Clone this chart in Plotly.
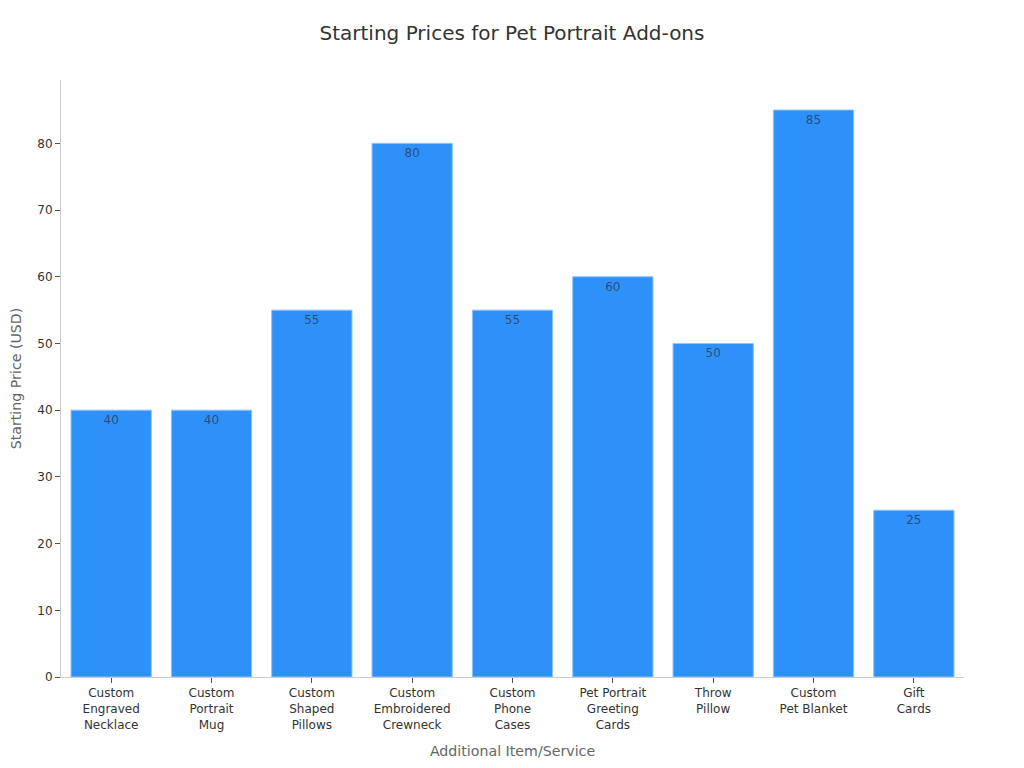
import plotly.graph_objects as go

categories = ["Custom<br>Engraved<br>Necklace", "Custom<br>Portrait<br>Mug", "Custom<br>Shaped<br>Pillows",
              "Custom<br>Embroidered<br>Crewneck", "Custom<br>Phone<br>Cases", "Pet Portrait<br>Greeting<br>Cards",
              "Throw<br>Pillow", "Custom<br>Pet Blanket", "Gift<br>Cards"]
values = [40, 40, 55, 80, 55, 60, 50, 85, 25]
y_ticks = [0, 10, 20, 30, 40, 50, 60, 70, 80]

FONT = "DejaVu Sans"
fig = go.Figure(go.Bar(
    x=categories, y=values, text=values, textposition="inside", insidetextanchor="end",
    textangle=0, constraintext="none",
    textfont=dict(family=FONT, size=12, color="rgba(40,50,70,0.72)"),
    marker=dict(color="#2E91FA", line=dict(color="#8CC4FC", width=1)),
    hoverinfo="x+y",
))
fig.update_layout(
    width=1008, height=752, autosize=False,
    margin=dict(l=52.6, r=52, t=72, b=83),
    paper_bgcolor="white", plot_bgcolor="white",
    font=dict(family=FONT, size=12, color="#333333"),
    title=dict(text="Starting Prices for Pet Portrait Add-ons", x=0.5, xanchor="center", y=0.9668, yanchor="middle",
               font=dict(family=FONT, size=20, color="#333333")),
    bargap=0.2, showlegend=False,
)
fig.update_xaxes(
    automargin=False,
    showline=True, linecolor="#cccccc", linewidth=1, ticks="outside", ticklen=5, tickcolor="#555555",
    tickfont=dict(size=12, color="#333333"), showgrid=False, tickangle=0,
    title=dict(text="Additional Item/Service", font=dict(size=14.2, color="#666666"), standoff=15),
)
fig.update_yaxes(
    automargin=False,
    range=[0, 89.5], tickmode="array", tickvals=y_ticks, showline=True, linecolor="#cccccc", linewidth=1,
    ticks="outside", ticklen=5, tickcolor="#555555", tickfont=dict(size=12, color="#333333"), showgrid=False, zeroline=False,
    title=dict(text="Starting Price (USD)", font=dict(size=14.2, color="#666666"), standoff=18),
)
fig.write_html("out.html")
